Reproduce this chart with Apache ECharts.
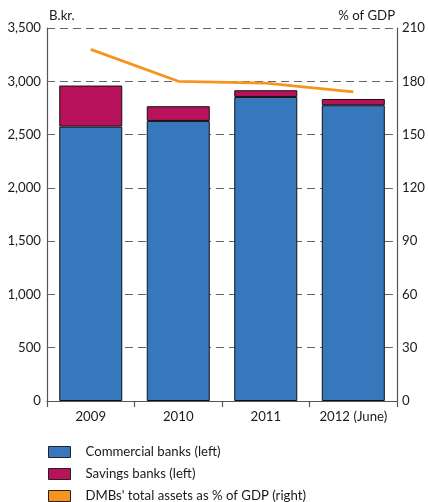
<!DOCTYPE html>
<html>
<head>
<meta charset="utf-8">
<script src="https://cdn.jsdelivr.net/npm/echarts@6/dist/echarts.min.js"></script>
<style>
  html, body { margin: 0; padding: 0; background: #fff; }
  #chart { width: 428px; height: 502px; }
</style>
</head>
<body>
<div id="chart"></div>
<script>
// Deposit money banks: total assets by bank type, and total as share of GDP
const categories = ['2009', '2010', '2011', '2012 (June)'];
const commercialBanks = [2575, 2628, 2853, 2775];   // B.kr., left axis
const savingsBanks = [385, 138, 63, 59];             // B.kr., left axis
const assetsPctGdp = [198, 180, 179, 174];           // %, right axis

const leftTicks = { min: 0, max: 3500, interval: 500 };
const rightTicks = { min: 0, max: 210, interval: 30 };

const FONT = 'Lato';
const FS = 13.2;
const TEXT = '#1a1a1a';
const AXIS = '#555555';

const chart = echarts.init(document.getElementById('chart'), null, { renderer: 'canvas' });

chart.setOption({
  animation: false,
  textStyle: { fontFamily: FONT, color: TEXT },
  grid: { left: 47, right: 29, top: 28, bottom: 101, containLabel: false },
  legend: {
    orient: 'vertical',
    left: 48,
    top: 444,
    height: 120,
    padding: 0,
    itemWidth: 22,
    itemHeight: 11,
    itemGap: 6,
    textStyle: { fontFamily: FONT, fontSize: FS, lineHeight: 16, color: TEXT, padding: [0, 0, 0, 10] },
    data: [
      { name: 'Commercial banks (left)', icon: 'rect',
        itemStyle: { color: '#3778BD', borderColor: '#222', borderWidth: 1 } },
      { name: 'Savings banks (left)', icon: 'rect',
        itemStyle: { color: '#B8135A', borderColor: '#222', borderWidth: 1 } },
      { name: "DMBs' total assets as % of GDP (right)", icon: 'rect',
        itemStyle: { color: '#F7941D', borderColor: '#222', borderWidth: 1 } }
    ]
  },
  xAxis: {
    type: 'category',
    data: categories,
    axisLine: { lineStyle: { color: AXIS, width: 1.2 } },
    axisTick: { show: true, interval: 0, length: 6, lineStyle: { color: AXIS, width: 1.2 } },
    axisLabel: { fontFamily: FONT, fontSize: FS, color: TEXT, margin: 9, interval: 0, hideOverlap: false }
  },
  yAxis: [
    {
      type: 'value',
      name: 'B.kr.',
      nameGap: 6,
      nameTextStyle: { fontFamily: FONT, fontSize: FS, color: TEXT, align: 'left', padding: [0, 0, 0, 2] },
      min: leftTicks.min, max: leftTicks.max, interval: leftTicks.interval,
      axisLine: { show: true, lineStyle: { color: AXIS, width: 1.2 } },
      axisTick: { show: false },
      axisLabel: {
        fontFamily: FONT, fontSize: FS, color: TEXT, margin: 6,
        formatter: v => v.toLocaleString('en-US')
      },
      splitLine: { show: true, lineStyle: { color: '#666', type: [8, 5], width: 1.2 } }
    },
    {
      type: 'value',
      name: '% of GDP',
      nameGap: 6,
      nameTextStyle: { fontFamily: FONT, fontSize: FS, color: TEXT, align: 'right', padding: [0, 2, 0, 0] },
      min: rightTicks.min, max: rightTicks.max, interval: rightTicks.interval,
      axisLine: { show: true, lineStyle: { color: AXIS, width: 1.2 } },
      axisTick: { show: false },
      axisLabel: { fontFamily: FONT, fontSize: FS, color: TEXT, margin: 5 },
      splitLine: { show: false }
    }
  ],
  series: [
    {
      name: 'Commercial banks (left)',
      type: 'bar',
      stack: 'assets',
      yAxisIndex: 0,
      barWidth: '72%',
      data: commercialBanks,
      itemStyle: { color: '#3778BD', borderColor: '#111', borderWidth: 1 }
    },
    {
      name: 'Savings banks (left)',
      type: 'bar',
      stack: 'assets',
      yAxisIndex: 0,
      barWidth: '72%',
      data: savingsBanks,
      itemStyle: { color: '#B8135A', borderColor: '#111', borderWidth: 1 }
    },
    {
      name: "DMBs' total assets as % of GDP (right)",
      type: 'line',
      yAxisIndex: 1,
      data: assetsPctGdp,
      symbol: 'none',
      z: 5,
      lineStyle: { color: '#F7941D', width: 2.8 },
      itemStyle: { color: '#F7941D' }
    }
  ]
});
</script>
</body>
</html>
